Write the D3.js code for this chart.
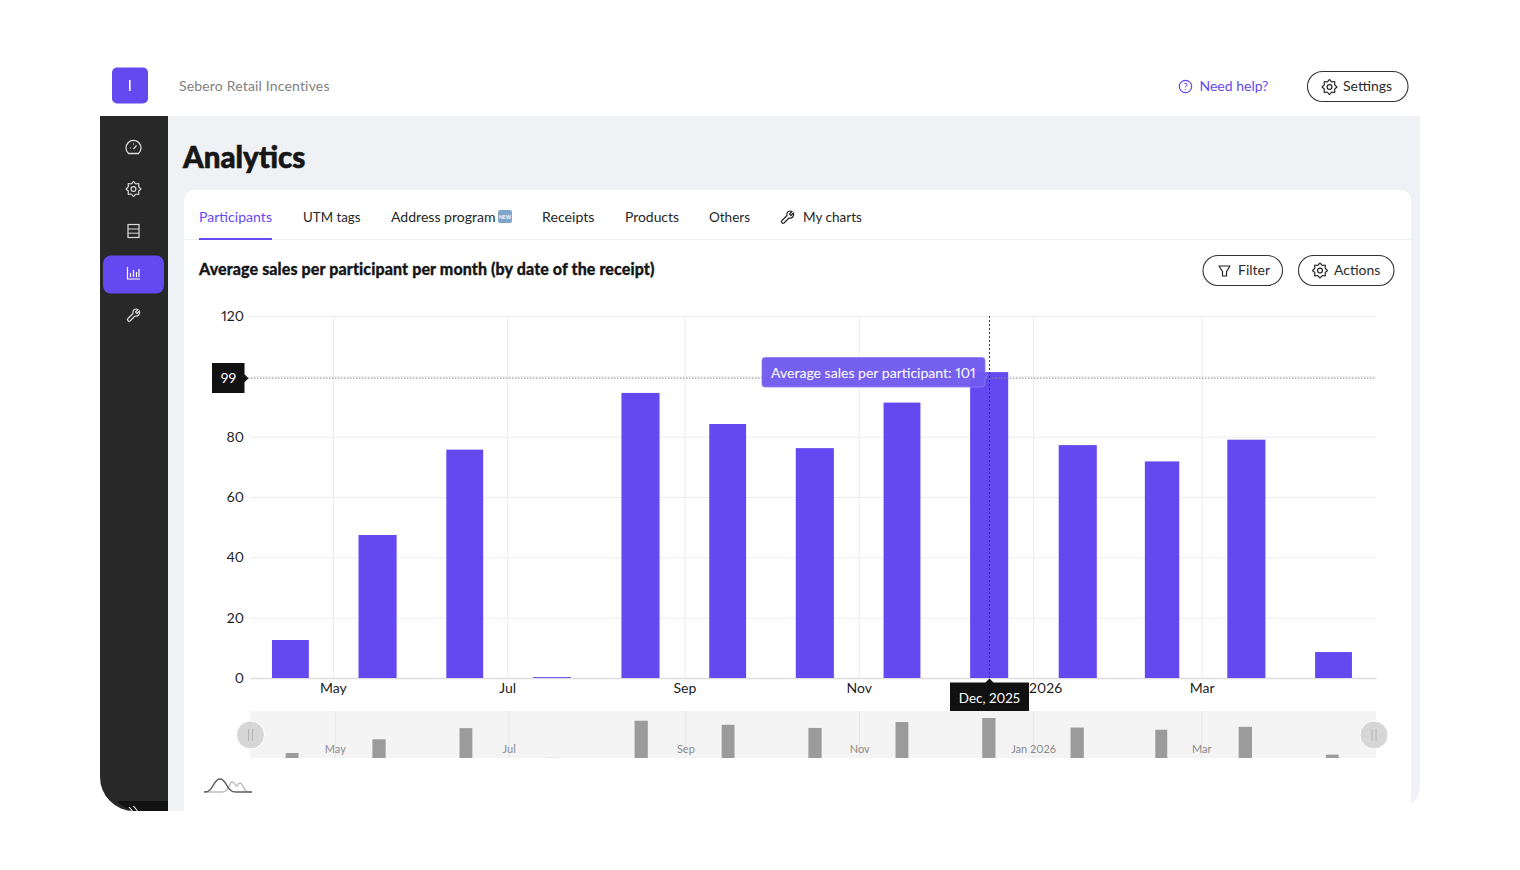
<!DOCTYPE html>
<html>
<head>
<meta charset="utf-8">
<script src="https://cdn.jsdelivr.net/npm/d3@7"></script>
<style>
  html, body { margin: 0; padding: 0; background: #fff; }
  svg { display: block; }
  text { font-family: Lato, "Noto Sans", sans-serif; font-feature-settings: "pnum"; }
</style>
</head>
<body>
<svg id="page" width="1520" height="870"></svg>
<script>
// chart data
const months = ["2025-04","2025-05","2025-06","2025-07","2025-08","2025-09","2025-10",
                "2025-11","2025-12","2026-01","2026-02","2026-03","2026-04"];
const avgSales = [12.6, 47.4, 75.7, 0.3, 94.5, 84.2, 76.2, 91.3, 101.4, 77.2, 71.8, 79, 8.6];
const yTicks = [0, 20, 40, 60, 80, 100, 120];
const xTickDates = ["2025-05","2025-07","2025-09","2025-11","2026-01","2026-03"];
const xTickLabels = ["May","Jul","Sep","Nov","Jan 2026","Mar"];
const tabs = ["Participants","UTM tags","Address program","Receipts","Products","Others","My charts"];
const tabX = [199, 303, 391, 542, 625, 709, 803];
const tabW = [73, 57.5, 104.5, 52.5, 54, 41, 59];

const PURPLE = "#6549f0", DARK = "#282828", INK = "#161616";
const parse = d3.utcParse("%Y-%m");

const svg = d3.select("#page");

// ── shell ──
svg.append("path").attr("fill", "#f0f1f5")
  .attr("d", "M168,116H1420V785A26,26 0 0 1 1394,811H168Z");
svg.append("path").attr("fill", DARK)
  .attr("d", "M100,116H168V811H134A34,34 0 0 1 100,777Z");
svg.append("path").attr("fill", "#121212")
  .attr("d", "M117,801H168V811H134A34,34 0 0 1 117,801Z");
svg.append("path").attr("fill", "#fff")
  .attr("d", "M184,200A10,10 0 0 1 194,190H1401A10,10 0 0 1 1411,200V811H184Z");

// ── icons ──
function gear(g, cx, cy, color, r = 7.4) {
  const pts = d3.range(16).map(i => [i / 16 * 2 * Math.PI, i % 2 ? r * 0.76 : r]);
  g.append("path")
    .attr("transform", `translate(${cx},${cy})`)
    .attr("d", d3.lineRadial().curve(d3.curveCardinalClosed.tension(0.2))(pts))
    .attr("fill", "none").attr("stroke", color).attr("stroke-width", 1.2);
  g.append("circle").attr("cx", cx).attr("cy", cy).attr("r", r * 0.33)
    .attr("fill", "none").attr("stroke", color).attr("stroke-width", 1.2);
}
function wrench(g, cx, cy, color) {
  g.append("path")
    .attr("transform", `translate(${cx},${cy})`)
    .attr("d", "M-5.5,3.5L-0.5,-1.5C-1.5,-4.5 1.5,-7 4.5,-5.5L2,-3L3.5,-1.5L6,-4C7,-1 4.5,2 1.5,1L-3.5,6C-5,7 -7,5 -5.5,3.5Z")
    .attr("fill", "none").attr("stroke", color).attr("stroke-width", 1.2).attr("stroke-linejoin", "round");
}

// ── header ──
svg.append("rect").attr("x", 112).attr("y", 67.5).attr("width", 36).attr("height", 36).attr("rx", 5).attr("fill", PURPLE);
svg.append("rect").attr("x", 129).attr("y", 80).attr("width", 1.6).attr("height", 11).attr("fill", "#fff");
svg.append("text").attr("x", 179).attr("y", 91).attr("font-size", 14).attr("fill", "#7f7f7f").attr("letter-spacing", 0.17)
  .text("Sebero Retail Incentives");

svg.append("circle").attr("cx", 1185.5).attr("cy", 86.5).attr("r", 6.2).attr("fill", "none").attr("stroke", PURPLE).attr("stroke-width", 1.2);
svg.append("text").attr("x", 1185.5).attr("y", 90.3).attr("text-anchor", "middle").attr("font-size", 10).attr("fill", PURPLE).text("?");
svg.append("text").attr("x", 1199.5).attr("y", 91).attr("font-size", 14).attr("fill", PURPLE).text("Need help?");

function pillButton(x, y, w, h, label, textX) {
  svg.append("rect").attr("x", x).attr("y", y).attr("width", w).attr("height", h).attr("rx", h / 2)
    .attr("fill", "#fff").attr("stroke", "#333").attr("stroke-width", 1.1);
  svg.append("text").attr("x", textX).attr("y", y + h / 2 + 4.8).attr("font-size", 14).attr("fill", "#2b2b2b").text(label);
}
pillButton(1307.5, 71.5, 100.5, 30, "Settings", 1343);
gear(svg, 1329.5, 87, "#222");
pillButton(1203, 255.5, 79.5, 30, "Filter", 1238);
svg.append("path").attr("d", "M1219,266H1230L1226.5,271.5V276H1222.5V271.5Z")
  .attr("fill", "none").attr("stroke", "#222").attr("stroke-width", 1.2).attr("stroke-linejoin", "round");
pillButton(1298.5, 255.5, 95.5, 30, "Actions", 1334);
gear(svg, 1320, 270.5, "#222");

// ── sidebar ──
svg.append("rect").attr("x", 103).attr("y", 255.5).attr("width", 61).attr("height", 38).attr("rx", 8).attr("fill", PURPLE);
const ICON = "#dcdcdc";
// gauge
svg.append("path").attr("d", "M128.5,153.5A7.5,7.5 0 1 1 138.5,153.5Z").attr("fill", "none").attr("stroke", ICON).attr("stroke-width", 1.3);
svg.append("path").attr("d", "M133.5,149L136.5,145.5M130,148H131M133.5,143.5V144.5").attr("stroke", ICON).attr("stroke-width", 1.2);
gear(svg, 133.5, 189, ICON);
// server
svg.append("rect").attr("x", 128).attr("y", 224.5).attr("width", 11).attr("height", 13).attr("fill", "none").attr("stroke", ICON).attr("stroke-width", 1.2);
svg.append("path").attr("d", "M128,229H139M128,233.2H139").attr("stroke", ICON).attr("stroke-width", 1);
// bars
svg.append("path").attr("d", "M127.5,267V279H140M130.5,277V273M133.5,277V270M136.5,277V272M139,277V269")
  .attr("fill", "none").attr("stroke", "#fff").attr("stroke-width", 1.2);
wrench(svg, 133.5, 315, ICON);
svg.append("path").attr("d", "M129,807L132.5,811M133.5,806L137.5,811").attr("stroke", "#fff").attr("stroke-width", 1.1);

// ── page title and tabs ──
svg.append("text").attr("x", 183).attr("y", 167.5).attr("font-size", 29.5).attr("font-weight", 900)
  .attr("fill", INK).attr("stroke", INK).attr("stroke-width", 0.6).text("Analytics");

svg.append("rect").attr("x", 184).attr("y", 239).attr("width", 1227).attr("height", 1).attr("fill", "#eeeff2");
svg.selectAll("text.tab").data(tabs).enter().append("text")
  .attr("class", "tab")
  .attr("x", (d, i) => tabX[i]).attr("y", 222)
  .attr("font-size", 14)
  .attr("textLength", (d, i) => tabW[i]).attr("lengthAdjust", "spacingAndGlyphs")
  .attr("fill", (d, i) => i === 0 ? PURPLE : "#262626")
  .text(d => d);
svg.append("rect").attr("x", 199).attr("y", 238).attr("width", 73).attr("height", 2).attr("fill", PURPLE);
svg.append("rect").attr("x", 498).attr("y", 210).attr("width", 14).attr("height", 13).attr("rx", 2).attr("fill", "#7fa6c9");
svg.append("text").attr("x", 505).attr("y", 218.5).attr("text-anchor", "middle").attr("font-size", 5).attr("font-weight", 700).attr("fill", "#fff").text("NEW");
wrench(svg, 787.5, 217, "#222");

svg.append("text").attr("x", 199).attr("y", 275).attr("font-size", 16).attr("font-weight", 900)
  .attr("letter-spacing", 0.11).attr("fill", INK).attr("stroke", INK).attr("stroke-width", 0.3)
  .text("Average sales per participant per month (by date of the receipt)");

// ── main chart ──
const x = d3.scaleUtc().domain([new Date(Date.UTC(2025, 3, 2)), new Date(Date.UTC(2026, 4, 1))]).range([250, 1376]);
const y = d3.scaleLinear().domain([0, 120]).range([678, 316]);
const xMini = x.copy().range([252.2, 1375]);

const monthStart = d => parse(d);
const monthEnd = d => d3.utcMonth.offset(parse(d), 1);
const barLeft = (sc, d, pad) => sc(monthStart(d)) + (sc(monthEnd(d)) - sc(monthStart(d))) * pad;
const barWidth = (sc, d, pad) => (sc(monthEnd(d)) - sc(monthStart(d))) * (1 - 2 * pad);

const xTickVals = xTickDates.map(parse);
const xLabel = d => xTickLabels[xTickVals.findIndex(v => +v === +d)];

// the 100 label sits under the crosshair's value box, so only its gridline shows
const yAxis = svg.append("g").attr("transform", "translate(250,0)")
  .call(d3.axisLeft(y).tickValues(yTicks).tickFormat(d => d === 100 ? "" : d).tickSize(-1126).tickSizeOuter(0).tickPadding(6));
yAxis.select(".domain").remove();
yAxis.selectAll("line").attr("stroke", "#ececee");
yAxis.selectAll("text").attr("font-size", 14).attr("fill", "#1c1c1c").attr("font-family", "Lato");

const xAxis = svg.append("g").attr("transform", "translate(0,678)")
  .call(d3.axisBottom(x).tickValues(xTickVals).tickFormat(xLabel).tickSizeInner(-362).tickSizeOuter(0).tickPadding(5));
xAxis.select(".domain").attr("stroke", "#dcdde0").attr("stroke-width", 1.4);
xAxis.selectAll("line").attr("stroke", "#ececee");
xAxis.selectAll("text").attr("font-size", 14).attr("fill", "#1c1c1c").attr("font-family", "Lato");

svg.append("g").attr("transform", "translate(0.4,0)").selectAll("rect")
  .data(months).enter().append("rect")
    .attr("x", d => barLeft(x, d, 0.285))
    .attr("width", d => barWidth(x, d, 0.285))
    .attr("y", (d, i) => y(avgSales[i]))
    .attr("height", (d, i) => y(0) - y(avgSales[i]))
    .attr("fill", PURPLE);

// ── crosshair ──
const hoverIdx = months.indexOf("2025-12");
// snap to the pixel grid, otherwise the dots blur away over the bar
const hoverX = Math.floor(barLeft(x, months[hoverIdx], 0.285) + barWidth(x, months[hoverIdx], 0.285) / 2 + 0.4) + 0.5;
const hoverY = y(99.4);
svg.append("line").attr("x1", 248).attr("x2", 1376).attr("y1", hoverY).attr("y2", hoverY)
  .attr("stroke", "#8a8a8a").attr("stroke-dasharray", "1.5,1.5");
svg.append("line").attr("x1", hoverX).attr("x2", hoverX).attr("y1", 316).attr("y2", 678)
  .attr("stroke", "#3a3a4a").attr("stroke-dasharray", "2,2");

svg.append("path").attr("fill", "#111")
  .attr("d", `M212,363H244.5V${hoverY - 4}L248.5,${hoverY}L244.5,${hoverY + 4}V393H212Z`);
svg.append("text").attr("x", 228.5).attr("y", hoverY + 5).attr("text-anchor", "middle")
  .attr("font-size", 14).attr("fill", "#fff").text("99");

svg.append("path").attr("fill", "#7059ef").attr("fill-opacity", 0.96).attr("stroke", "#8d7bf3").attr("stroke-width", 0.8)
  .attr("d", "M765,357.5H982A3,3 0 0 1 985,360.5V372L988,375L985,378V384A3,3 0 0 1 982,387H765A3,3 0 0 1 762,384V360.5A3,3 0 0 1 765,357.5Z");
svg.append("text").attr("x", 771).attr("y", 378).attr("font-size", 14.05).attr("fill", "#fff")
  .text("Average sales per participant: " + Math.round(avgSales[hoverIdx]));

svg.append("path").attr("fill", "#111")
  .attr("d", `M950,682.5H${hoverX - 4}L${hoverX},678.5L${hoverX + 4},682.5H1029V713H950Z`);
svg.append("text").attr("x", hoverX).attr("y", 703).attr("text-anchor", "middle")
  .attr("font-size", 13.4).attr("fill", "#fff").text("Dec, 2025");

// ── range slider ──
const yMini = d3.scaleLinear().domain([0, 101.4]).range([758, 718]);
svg.append("rect").attr("x", 250).attr("y", 711).attr("width", 1126).attr("height", 47).attr("fill", "#f4f4f5");

const miniAxis = svg.append("g").attr("transform", "translate(0,758)")
  .call(d3.axisBottom(xMini).tickValues(xTickVals).tickFormat(xLabel).tickSizeInner(-47).tickSizeOuter(0).tickPadding(-5));
miniAxis.select(".domain").remove();
miniAxis.selectAll("line").attr("stroke", "#e6e6e8");
miniAxis.selectAll("text").attr("font-size", 11).attr("fill", "#8a8a8a").attr("font-family", "Lato").attr("dy", 0);

svg.append("g").selectAll("rect")
  .data(months).enter().append("rect")
    .attr("x", d => barLeft(xMini, d, 0.425))
    .attr("width", d => barWidth(xMini, d, 0.425))
    .attr("y", (d, i) => yMini(avgSales[i]))
    .attr("height", (d, i) => yMini(0) - yMini(avgSales[i]))
    .attr("fill", "#9b9b9b");

[250.5, 1374].forEach(cx => {
  svg.append("circle").attr("cx", cx).attr("cy", 735).attr("r", 14).attr("fill", "#d6d6d6").attr("stroke", "#fff");
  svg.append("path").attr("d", `M${cx - 2},729V741M${cx + 2},729V741`).attr("stroke", "#b3b3b3");
});

// chart type toggle
svg.append("path").attr("fill", "none").attr("stroke", "#bdbdbd").attr("stroke-width", 1.4)
  .attr("d", "M204,792H222C230,792 229,782 232,782C235,782 235,786 237,786C239,782 241,782 243,786C245,792 247,792 252,792");
svg.append("path").attr("fill", "none").attr("stroke", "#5f5f5f").attr("stroke-width", 1.4)
  .attr("d", "M204,792C214,792 213,779 220,779C227,779 226,792 236,792H252");
</script>
</body>
</html>
